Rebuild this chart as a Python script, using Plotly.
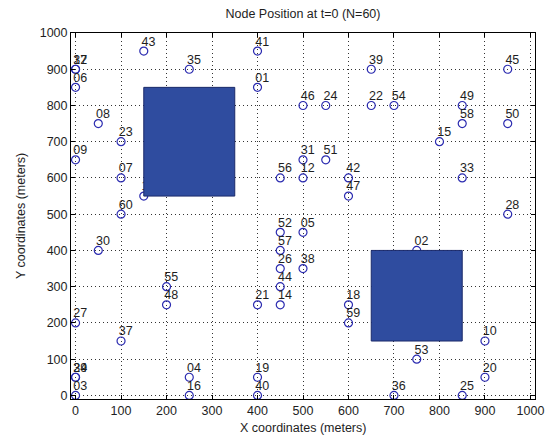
import plotly.graph_objects as go

# Node data (x, y in meters) with labels
labels = ["01","02","03","04","05","06","07","08","09","10",
          "11","12","13","14","15","16","17","18","19","20",
          "21","22","23","24","25","26","27","28","29","30",
          "31","32","33","34","35","36","37","38","39","40",
          "41","42","43","44","45","46","47","48","49","50",
          "51","52","53","54","55","56","57","58","59","60"]
node_x = [400, 750, 0, 250, 500, 0, 100, 50, 0, 900,
          150, 500, 750, 450, 800, 250, 0, 600, 400, 900,
          400, 650, 100, 550, 850, 450, 0, 950, 0, 50,
          500, 0, 850, 0, 250, 700, 100, 500, 650, 400,
          400, 600, 150, 450, 950, 500, 600, 200, 850, 950,
          550, 450, 750, 700, 200, 450, 450, 850, 600, 100]
node_y = [850, 400, 0, 50, 450, 850, 600, 750, 650, 150,
          550, 600, 300, 250, 700, 0, 900, 250, 50, 50,
          250, 800, 700, 800, 0, 350, 200, 500, 50, 400,
          650, 900, 600, 50, 900, 0, 150, 350, 900, 0,
          950, 600, 950, 300, 900, 800, 550, 250, 800, 750,
          650, 450, 100, 800, 300, 600, 400, 750, 200, 500]

# Obstacles [x0, x1, y0, y1]
obstacle_x0 = [150, 650]
obstacle_x1 = [350, 850]
obstacle_y0 = [550, 150]
obstacle_y1 = [850, 400]

x_ticks = list(range(0, 1001, 100))
y_ticks = list(range(0, 1001, 100))

FONT = "Liberation Sans, Arial, sans-serif"
TXT = "#1e1e1e"
label_dx = -5   # label offset (data units)
label_dy = 24

fig = go.Figure()
fig.add_trace(go.Scatter(
    x=node_x, y=node_y, mode="markers",
    marker=dict(symbol="circle-open", size=8, color="#2b2bb0", line=dict(width=1.2, color="#2b2bb0")),
    hoverinfo="skip", showlegend=False))
fig.add_trace(go.Scatter(
    x=[v + label_dx for v in node_x], y=[v + label_dy for v in node_y], mode="text", text=labels,
    textposition="middle right",
    textfont=dict(family=FONT, size=12.5, color=TXT),
    hoverinfo="skip", showlegend=False))

for x0, x1, y0, y1 in zip(obstacle_x0, obstacle_x1, obstacle_y0, obstacle_y1):
    fig.add_shape(type="rect", x0=x0, x1=x1, y0=y0, y1=y1, xref="x", yref="y",
                  fillcolor="#2f4c9f", line=dict(color="#1b2a6a", width=1), layer="above")

axis_common = dict(
    showgrid=True, gridcolor="#333333", griddash="1px,3px", gridwidth=1,
    zeroline=False, showline=True, linecolor="#000000", linewidth=1,
    mirror="ticks", ticks="inside", ticklen=4, tickcolor="#000000",
    tickfont=dict(family=FONT, size=12.5, color=TXT),
)
fig.update_xaxes(range=[-10, 1010], tickvals=x_ticks, **axis_common)
fig.update_yaxes(range=[-10, 1000], tickvals=y_ticks, **axis_common)

fig.add_annotation(text="X coordinates (meters)", xref="paper", yref="paper",
                   x=0.5, y=-0.0, yshift=-29, xanchor="center", yanchor="middle", showarrow=False,
                   font=dict(family=FONT, size=12.5, color=TXT))
fig.add_annotation(text="Y coordinates (meters)", xref="paper", yref="paper",
                   x=0.0, y=0.5, xshift=-50, xanchor="center", yanchor="middle", showarrow=False,
                   textangle=-90, font=dict(family=FONT, size=12.5, color=TXT))

fig.update_layout(
    width=556, height=438,
    margin=dict(l=71, r=18, t=33, b=39),
    paper_bgcolor="#ffffff", plot_bgcolor="#ffffff",
    title=dict(text="Node Position at t=0 (N=60)", x=0.5, xref="paper", xanchor="center",
               y=1 - 14 / 438, yref="container", yanchor="middle",
               font=dict(family=FONT, size=12.5, color=TXT)),
)

fig.write_html("out.html")
